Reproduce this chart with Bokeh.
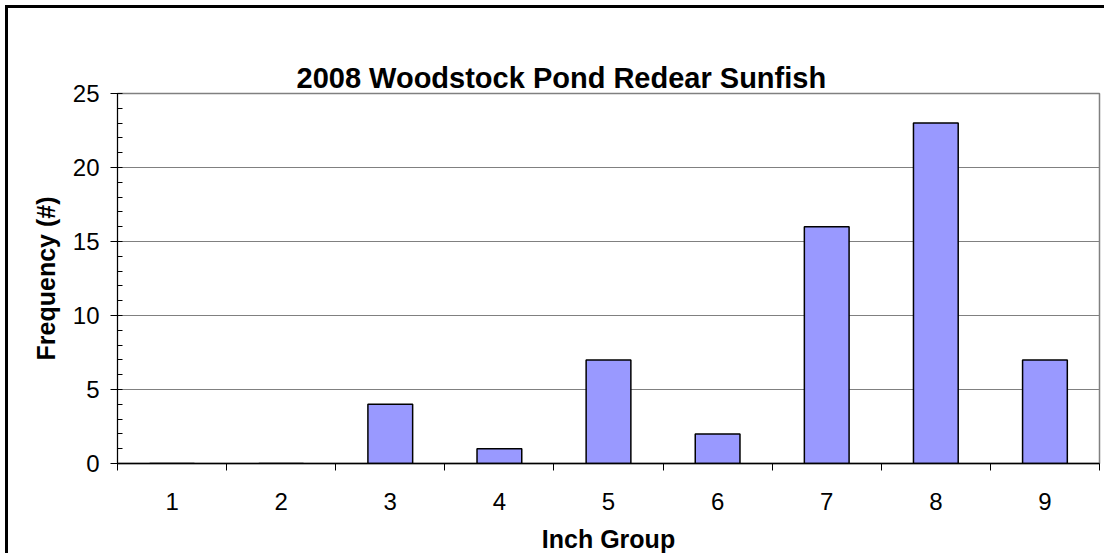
from bokeh.plotting import figure
from bokeh.models import FixedTicker, Range1d, Title, LinearAxis
from bokeh.embed import file_html
from bokeh.resources import INLINE

# Data
inch_groups = [1, 2, 3, 4, 5, 6, 7, 8, 9]
frequency = [0, 0, 4, 1, 7, 2, 16, 23, 7]
y_ticks = [0, 5, 10, 15, 20, 25]
title_text = "2008 Woodstock Pond Redear Sunfish"
x_label = "Inch Group"
y_label = "Frequency (#)"

FONT = "Liberation Sans"

p = figure(width=1099, height=548, output_backend="svg", toolbar_location=None,
           x_range=Range1d(0.5, 9.5), y_range=Range1d(0, 25),
           title_location=None,
           min_border_left=109, min_border_right=8, min_border_top=85, min_border_bottom=93)
# outer chart frame (left and top edges are visible in the cropped original)
p.styles = {"border-left": "3px solid black", "border-top": "3px solid black",
            "margin-left": "5px", "margin-top": "5px"}
p.background_fill_color = "white"
p.border_fill_color = "white"
p.outline_line_color = "#808080"
p.outline_line_width = 1.5

main_title = Title(text=title_text, text_font=FONT, text_font_style="bold",
                   text_font_size="29px", text_color="black",
                   align="left", offset=179, standoff=0)
p.add_layout(main_title, "above")
# invisible, tick-less axis used as a spacer between the title and the plot area
spacer = LinearAxis(ticker=FixedTicker(ticks=[]), major_tick_out=36, major_tick_in=0,
                    minor_tick_out=0, minor_tick_in=0, major_label_standoff=0,
                    axis_line_color=None, major_tick_line_color=None,
                    minor_tick_line_color=None)
p.add_layout(spacer, "above")

p.vbar(x=inch_groups, top=frequency, width=0.41, fill_color="#9999FF",
       line_color="black", line_width=1.5)

# Y axis
ya = p.yaxis[0]
ya.ticker = FixedTicker(ticks=y_ticks, minor_ticks=[v for v in range(0, 26) if v % 5 != 0])
ya.major_tick_out = 7
ya.major_tick_in = 5
ya.minor_tick_in = 5
ya.minor_tick_out = 0
ya.axis_line_color = "black"
ya.major_tick_line_color = "black"
ya.minor_tick_line_color = "black"
ya.major_label_text_font = FONT
ya.major_label_text_font_size = "24px"
ya.major_label_text_color = "black"
ya.major_label_standoff = 11
ya.axis_label = y_label
ya.axis_label_text_font = FONT
ya.axis_label_text_font_style = "bold"
ya.axis_label_text_font_size = "25px"
ya.axis_label_text_color = "black"
ya.axis_label_standoff = 10

# X axis
xa = p.below[0]
xa.ticker = FixedTicker(ticks=inch_groups, minor_ticks=[g - 0.5 for g in inch_groups] + [inch_groups[-1] + 0.5])
xa.major_tick_out = 0
xa.major_tick_in = 0
xa.minor_tick_out = 7
xa.minor_tick_in = 0
xa.axis_line_color = "black"
xa.axis_line_width = 1.5
xa.minor_tick_line_color = "black"
xa.major_label_text_font = FONT
xa.major_label_text_font_size = "24px"
xa.major_label_text_color = "black"
xa.major_label_standoff = 22
xa.axis_label = x_label
xa.axis_label_text_font = FONT
xa.axis_label_text_font_style = "bold"
xa.axis_label_text_font_size = "25px"
xa.axis_label_text_color = "black"
xa.axis_label_standoff = 12

p.xgrid.grid_line_color = None
p.ygrid.grid_line_color = "#808080"
p.ygrid.grid_line_width = 1.2

open("out.html", "w").write(file_html(p, INLINE))
